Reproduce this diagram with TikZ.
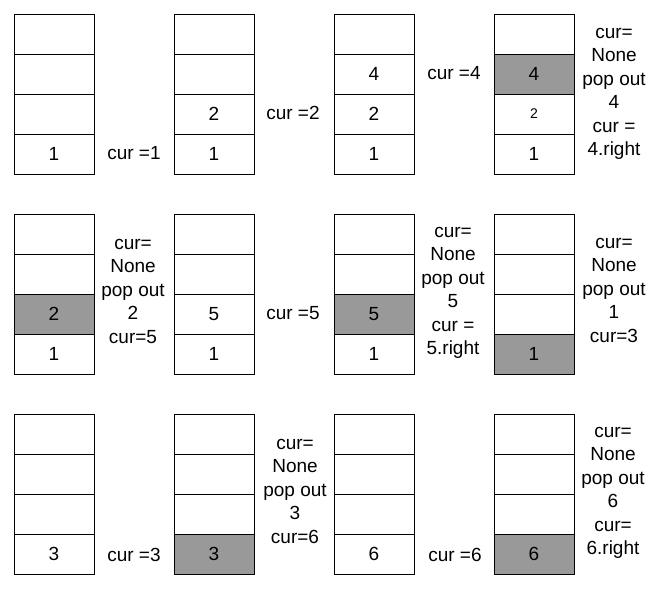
\documentclass[tikz,border=0pt]{standalone}
\usepackage{fontspec}
\setmainfont{Liberation Sans}
\definecolor{popgray}{HTML}{999999}
\begin{document}
\begin{tikzpicture}[x=1pt,y=-1pt,
  cell/.style={draw, line width=1pt, minimum width=80pt, minimum height=40pt, inner sep=0pt, outer sep=0pt},
  val/.style={font=\fontsize{19}{23.5}\selectfont, inner sep=0pt},
  smallval/.style={font=\fontsize{14}{17}\selectfont, inner sep=0pt},
  note/.style={align=center, font=\fontsize{19}{23.5}\selectfont, inner sep=0pt}]
\useasboundingbox (0,0) rectangle (658,592);
\foreach \r in {1,2,3}{
  \foreach \c in {1,2,3,4}{
    \foreach \k in {1,...,4}{
      \node[cell] (c\r\c\k) at ({54+160*(\c-1)}, {14+200*(\r-1)+(4-\k)*40+20}) {};
    }}}
\foreach \n in {c143,c212,c232,c241,c321,c341}
  \draw[line width=1pt, fill=popgray] (\n.south west) rectangle (\n.north east);
% values
\foreach \n/\t in {c111/1, c121/1, c122/2, c131/1, c132/2, c133/4, c141/1, c143/4,
                   c211/1, c212/2, c221/1, c222/5, c231/1, c232/5, c241/1,
                   c311/3, c321/3, c331/6, c341/6}
  \node[val] (v\n) at (\n) {\t};
\node[smallval] (vc142) at (c142) {2};
% notes
\node[note] (l11) at (134,153) {cur =1};
\node[note] (l12) at (293,113) {cur =2};
\node[note] (l13) at (454,73) {cur =4};
\node[note] (l14) at (614,94) {cur=\\None\\pop out\\4\\cur =\\4.right};
\node[note] (l21) at (133,291) {cur=\\None\\pop out\\2\\cur=5};
\node[note] (l22) at (293,313) {cur =5};
\node[note] (l23) at (453,293) {cur=\\None\\pop out\\5\\cur =\\5.right};
\node[note] (l24) at (614,290) {cur=\\None\\pop out\\1\\cur=3};
\node[note] (l31) at (134,555) {cur =3};
\node[note] (l32) at (295,491) {cur=\\None\\pop out\\3\\cur=6};
\node[note] (l33) at (455,555) {cur =6};
\node[note] (l34) at (613,493) {cur=\\None\\pop out\\6\\cur=\\6.right};
\end{tikzpicture}
\end{document}
